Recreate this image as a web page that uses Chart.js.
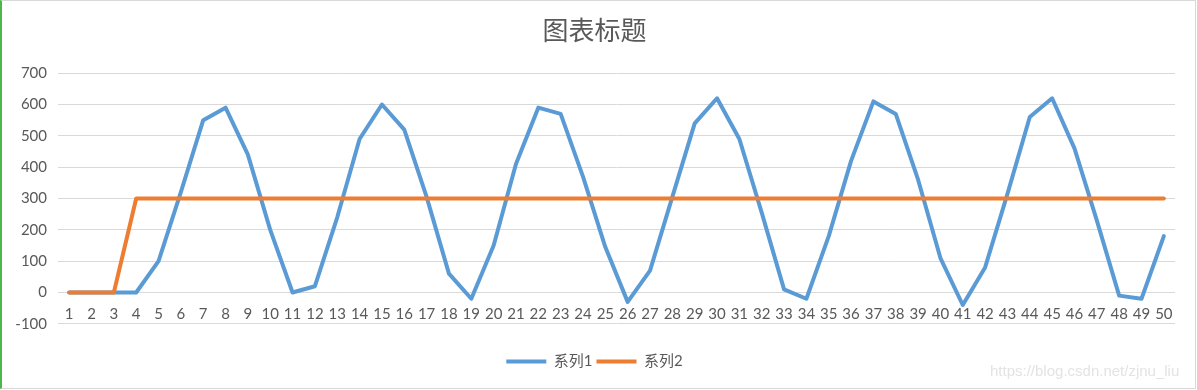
<!DOCTYPE html>
<html>
<head>
<meta charset="utf-8">
<script src="https://cdn.jsdelivr.net/npm/chart.js@4"></script>
<style>
  html, body { margin: 0; padding: 0; background: #fff; }
  #box {
    position: absolute; left: 0; top: 0;
    width: 1196px; height: 389px;
    box-sizing: border-box;
    border-left: 2px solid #4cb84c;
    border-top: 1px solid #d9d9d9;
    border-right: 1px solid #d9d9d9;
    border-bottom: 1px solid #d9d9d9;
  }
  #wm {
    position: absolute; left: 990px; top: 362px;
    font: 15px "Liberation Sans", Arial, sans-serif;
    color: #e3e3e3;
  }
</style>
</head>
<body>
<div id="box"><canvas id="grafico" width="1193" height="387"></canvas></div>
<div id="wm">https://blog.csdn.net/zjnu_liu</div>
<script>
// categorias 1..50
const categorias = ['1','2','3','4','5','6','7','8','9','10','11','12','13','14','15','16','17','18','19','20',
  '21','22','23','24','25','26','27','28','29','30','31','32','33','34','35','36','37','38','39','40',
  '41','42','43','44','45','46','47','48','49','50'];

// valores
const serie1 = [0, 0, 0, 0, 100, 320, 550, 590, 440, 200,
  0, 20, 240, 490, 600, 520, 305, 60, -20, 150,
  410, 590, 570, 370, 145, -30, 70, 305, 540, 620,
  490, 255, 10, -20, 180, 420, 610, 570, 360, 110,
  -40, 80, 315, 560, 620, 460, 230, -10, -20, 180];
const serie2 = [0, 0, 0, 300, 300, 300, 300, 300, 300, 300,
  300, 300, 300, 300, 300, 300, 300, 300, 300, 300,
  300, 300, 300, 300, 300, 300, 300, 300, 300, 300,
  300, 300, 300, 300, 300, 300, 300, 300, 300, 300,
  300, 300, 300, 300, 300, 300, 300, 300, 300, 300];

const yMin = -100;
const yMax = 700;
const yPaso = 100;

const gris = '#595959';
const fuente = 'Lato, "Noto Sans CJK SC", sans-serif';

var ctx = document.getElementById('grafico').getContext('2d');
var grafico = new Chart(ctx, {
    type: 'line',
    data: {
        labels: categorias,
        datasets: [
            {
                label: '系列1',
                data: serie1,
                borderColor: '#5b9bd5',
                backgroundColor: '#5b9bd5',
                borderWidth: 4,
                borderCapStyle: 'round',
                borderJoinStyle: 'round',
                pointRadius: 0,
                tension: 0,
                order: 1
            },
            {
                label: '系列2',
                data: serie2,
                borderColor: '#ed7d31',
                backgroundColor: '#ed7d31',
                borderWidth: 4,
                borderCapStyle: 'round',
                borderJoinStyle: 'round',
                pointRadius: 0,
                tension: 0,
                order: 0 // naranja encima
            }
        ]
    },
    options: {
        responsive: false,
        animation: false,
        layout: { padding: { left: 12, right: 20, top: 0, bottom: 9 } },
        plugins: {
            title: {
                display: true,
                text: '图表标题',
                color: gris,
                font: { family: '"Noto Sans CJK SC", sans-serif', size: 26, weight: 'normal' },
                padding: { top: 14, bottom: 27 }
            },
            legend: {
                position: 'bottom',
                title: { display: true, text: ' ', font: { size: 1 }, padding: { top: 25, bottom: 0 } },
                labels: {
                    color: gris,
                    font: { family: fuente, size: 15 },
                    usePointStyle: true,
                    pointStyle: 'line',
                    pointStyleWidth: 40,
                    padding: 4,
                    sort: (a, b) => a.datasetIndex - b.datasetIndex
                }
            },
            tooltip: { enabled: false }
        },
        scales: {
            x: {
                position: { y: 0 },
                offset: true,
                grid: { display: false, drawTicks: false },
                border: { display: false },
                ticks: {
                    color: gris,
                    font: { family: fuente, size: 15 },
                    autoSkip: false,
                    maxRotation: 0,
                    padding: 13
                }
            },
            y: {
                min: yMin,
                max: yMax,
                grid: { color: '#d9d9d9', drawTicks: false },
                border: { display: false },
                ticks: {
                    stepSize: yPaso,
                    color: gris,
                    font: { family: fuente, size: 15 },
                    padding: 11
                },
                afterFit: function (eje) { eje.width = 44; }
            }
        }
    }
});
</script>
</body>
</html>
